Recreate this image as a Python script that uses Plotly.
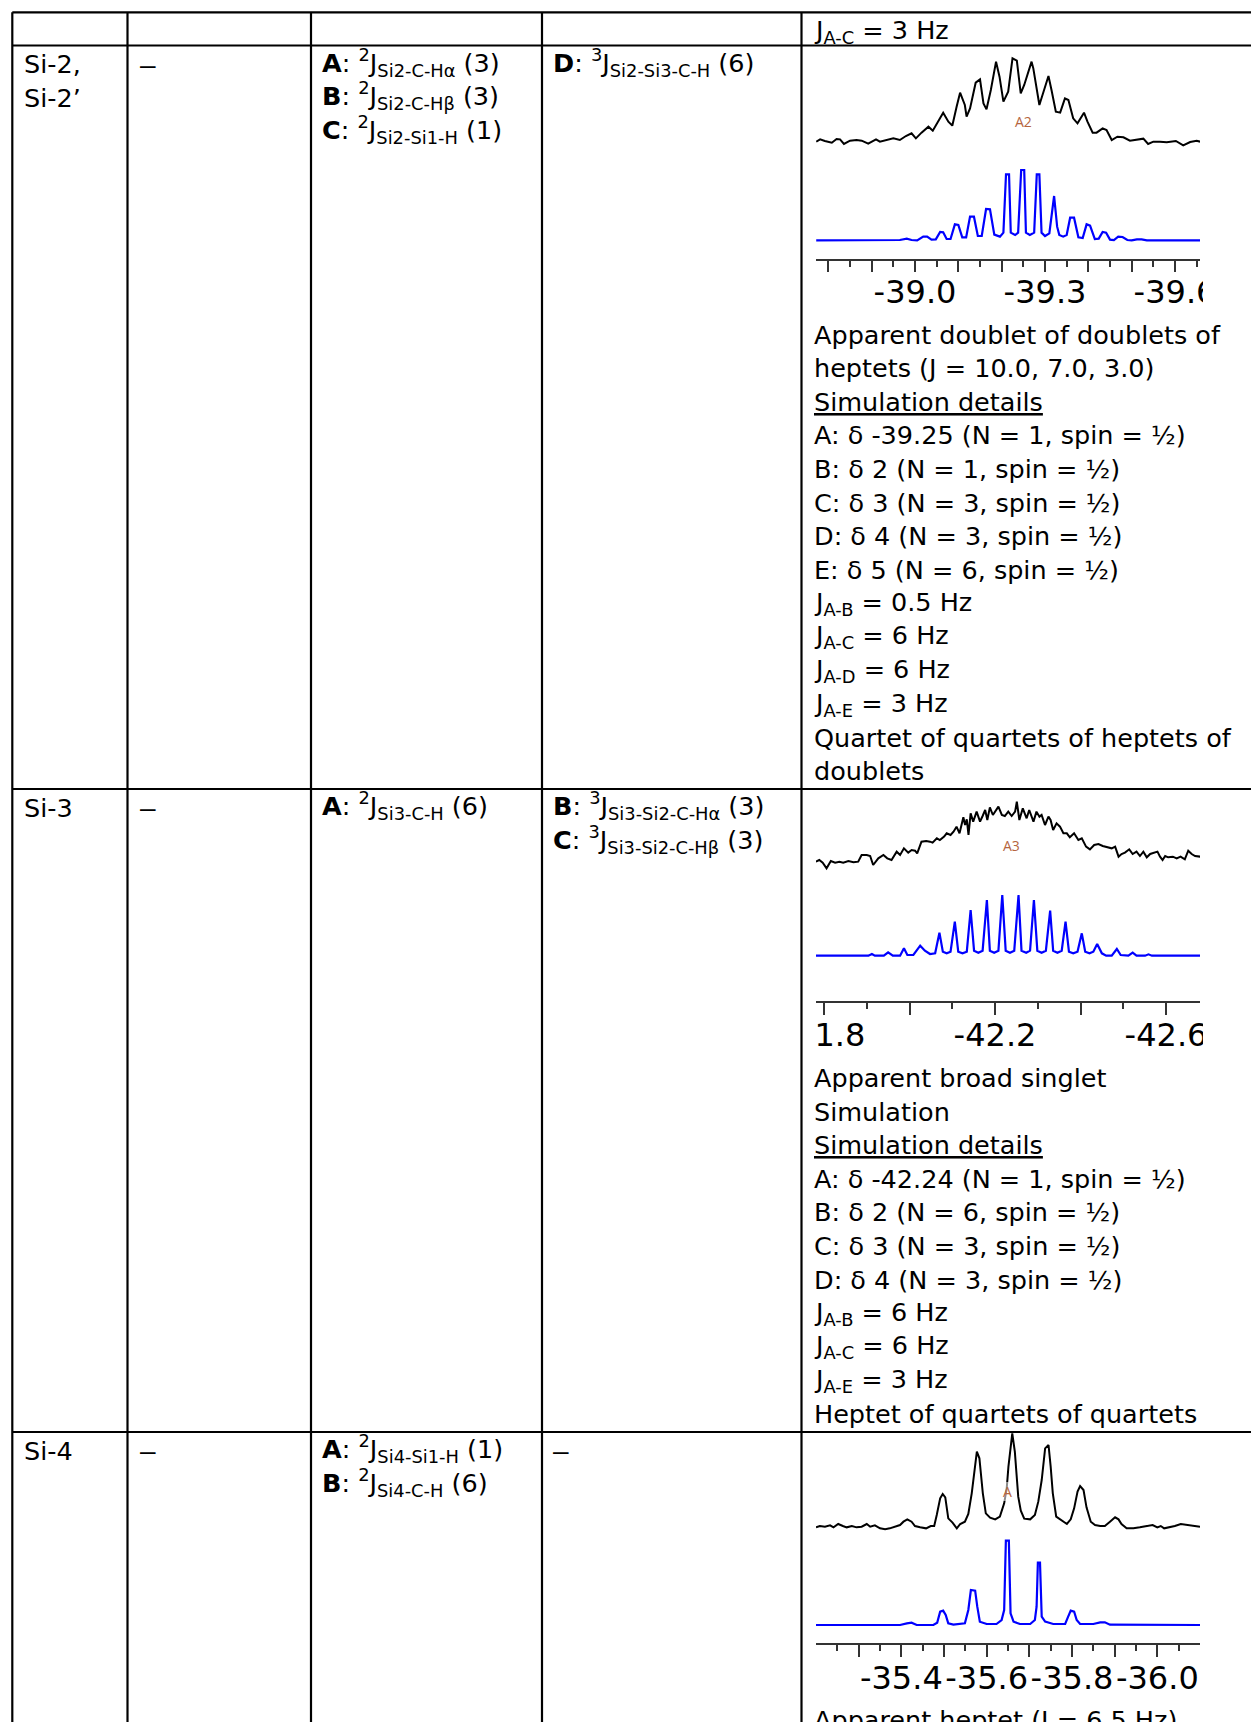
import plotly.graph_objects as go

# ------------------------------------------------------------------
# DATA
# ------------------------------------------------------------------
# Si-2 / Si-2' : experimental (black) and simulated (blue) 29Si traces
SI2_EXP_PPM = [-38.772, -38.781, -38.792, -38.808, -38.819, -38.827, -38.836, -38.850, -38.865, -38.877,
               -38.892, -38.910, -38.919, -38.935, -38.950, -38.965, -38.979, -38.992, -39.002, -39.015,
               -39.031, -39.041, -39.054, -39.065, -39.077, -39.086, -39.096, -39.104, -39.115, -39.119,
               -39.127, -39.140, -39.150, -39.158, -39.165, -39.175, -39.187, -39.195, -39.204, -39.215,
               -39.225, -39.235, -39.244, -39.252, -39.269, -39.273, -39.287, -39.296, -39.308, -39.315,
               -39.325, -39.335, -39.346, -39.354, -39.365, -39.375, -39.390, -39.398, -39.410, -39.419,
               -39.433, -39.442, -39.454, -39.467, -39.481, -39.496, -39.510, -39.527, -39.538, -39.550,
               -39.565, -39.581, -39.602, -39.619, -39.635, -39.650, -39.658]
SI2_EXP_INT = [0, 7, 2, -3, 8, 7, -7, 3, 5, 3,
               -6, 7, 0, 5, 10, 5, 17, 25, 10, 27,
               45, 33, 60, 87, 60, 48, 105, 147, 110, 75,
               100, 177, 187, 115, 97, 155, 240, 195, 120, 150,
               250, 243, 145, 170, 240, 220, 110, 150, 197, 155,
               90, 87, 130, 125, 70, 55, 87, 60, 27, 27,
               40, 35, 5, 15, 13, 3, 5, 9, -7, 0,
               0, -2, 2, -11, -1, 3, 0]
SI2_SIM_PPM = [-38.772, -38.950, -38.965, -38.981, -38.992, -39.005, -39.019, -39.028, -39.038, -39.048,
               -39.058, -39.065, -39.073, -39.082, -39.092, -39.100, -39.109, -39.118, -39.127, -39.136,
               -39.145, -39.154, -39.164, -39.173, -39.183, -39.196, -39.204, -39.210, -39.217, -39.221,
               -39.231, -39.238, -39.245, -39.252, -39.256, -39.265, -39.275, -39.281, -39.287, -39.292,
               -39.300, -39.310, -39.321, -39.328, -39.333, -39.342, -39.350, -39.358, -39.367, -39.377,
               -39.387, -39.396, -39.404, -39.415, -39.424, -39.433, -39.441, -39.450, -39.459, -39.469,
               -39.479, -39.490, -39.500, -39.512, -39.523, -39.535, -39.658]
SI2_SIM_INT = [0, 0, 1, 5, 1, 0, 11, 11, 2, 3,
               25, 24, 4, 4, 48, 46, 9, 9, 71, 71,
               13, 13, 94, 93, 17, 11, 23, 198, 198, 23,
               16, 23, 211, 211, 23, 16, 23, 198, 198, 23,
               13, 21, 133, 41, 16, 11, 16, 68, 68, 9,
               7, 48, 44, 4, 5, 25, 23, 2, 1, 11,
               10, 1, 0, 3, 3, 0, 0]
SI2_RANGE = [-38.7715, -39.6577]
SI2_TICKS = [-38.8, -38.9, -39.0, -39.1, -39.2, -39.3, -39.4, -39.5, -39.6]
SI2_TICK_LABELS = ["", "", "-39.0", "", "", "-39.3", "", "", "-39.6"]
SI2_MINOR = [-38.85, -38.95, -39.05, -39.15, -39.25, -39.35, -39.45, -39.55, -39.65]

# Si-3
SI3_EXP_PPM = [-41.781, -41.789, -41.797, -41.806, -41.816, -41.826, -41.836, -41.845, -41.857, -41.869,
               -41.880, -41.888, -41.900, -41.908, -41.915, -41.927, -41.939, -41.948, -41.958, -41.970,
               -41.978, -41.987, -41.997, -42.005, -42.013, -42.018, -42.028, -42.039, -42.048, -42.054,
               -42.064, -42.071, -42.081, -42.087, -42.096, -42.103, -42.110, -42.117, -42.126, -42.130,
               -42.134, -42.138, -42.143, -42.149, -42.157, -42.165, -42.171, -42.177, -42.182, -42.188,
               -42.195, -42.200, -42.208, -42.216, -42.223, -42.231, -42.239, -42.247, -42.251, -42.257,
               -42.265, -42.274, -42.280, -42.290, -42.297, -42.304, -42.309, -42.317, -42.325, -42.330,
               -42.336, -42.344, -42.352, -42.360, -42.368, -42.375, -42.385, -42.395, -42.403, -42.413,
               -42.422, -42.432, -42.442, -42.452, -42.463, -42.473, -42.481, -42.489, -42.496, -42.504,
               -42.514, -42.522, -42.531, -42.539, -42.547, -42.555, -42.563, -42.572, -42.580, -42.586,
               -42.592, -42.598, -42.605, -42.616, -42.625, -42.634, -42.644, -42.652, -42.660, -42.668,
               -42.680]
SI3_EXP_INT = [5, 10, 2, -15, 7, 2, 5, 2, 7, 3,
               5, 25, 25, 22, -5, 15, 25, 15, 10, 35,
               25, 45, 32, 40, 38, 30, 65, 67, 65, 62,
               75, 70, 80, 90, 85, 95, 110, 90, 138, 115,
               132, 85, 150, 125, 155, 125, 142, 160, 130, 168,
               145, 155, 170, 145, 142, 155, 142, 155, 185, 130,
               165, 135, 160, 125, 155, 140, 145, 115, 140, 130,
               100, 120, 110, 90, 90, 78, 90, 70, 75, 50,
               42, 55, 58, 52, 48, 45, 50, 20, 28, 32,
               42, 28, 35, 22, 35, 18, 28, 32, 35, 20,
               10, 22, 18, 20, 15, 20, 12, 38, 28, 22,
               20]
SI3_SIM_PPM = [-41.781, -41.876, -41.904, -41.912, -41.919, -41.940, -41.950, -41.961, -41.978, -41.987,
               -41.995, -42.009, -42.025, -42.036, -42.048, -42.060, -42.070, -42.078, -42.087, -42.096,
               -42.106, -42.114, -42.124, -42.134, -42.143, -42.151, -42.161, -42.171, -42.181, -42.188,
               -42.198, -42.208, -42.217, -42.225, -42.235, -42.245, -42.255, -42.262, -42.273, -42.282,
               -42.291, -42.299, -42.309, -42.319, -42.329, -42.336, -42.346, -42.356, -42.365, -42.373,
               -42.383, -42.393, -42.403, -42.411, -42.421, -42.430, -42.439, -42.450, -42.460, -42.473,
               -42.485, -42.494, -42.512, -42.522, -42.531, -42.551, -42.559, -42.567, -42.680]
SI3_SIM_INT = [0, 0, 0, 5, 0, 0, 10, 0, 0, 22,
               2, 2, 30, 15, 5, 7, 69, 12, 7, 12,
               102, 12, 7, 12, 137, 15, 9, 15, 167, 15,
               9, 15, 182, 15, 9, 15, 182, 15, 9, 15,
               167, 15, 9, 15, 135, 15, 9, 15, 102, 12,
               7, 12, 67, 12, 7, 12, 35, 7, 0, 0,
               20, 2, 0, 9, 0, 0, 4, 0, 0]
SI3_RANGE = [-41.7813, -42.6795]
SI3_TICKS = [-41.8, -42.0, -42.2, -42.4, -42.6]
SI3_TICK_LABELS = ["-41.8", "", "-42.2", "", "-42.6"]
SI3_MINOR = [-41.9, -42.1, -42.3, -42.5]

# Si-4
SI4_EXP_PPM = [-35.200, -35.209, -35.221, -35.233, -35.241, -35.252, -35.263, -35.272, -35.284, -35.295,
               -35.307, -35.319, -35.327, -35.338, -35.350, -35.362, -35.373, -35.385, -35.397, -35.405,
               -35.414, -35.424, -35.432, -35.444, -35.458, -35.469, -35.477, -35.483, -35.491, -35.497,
               -35.503, -35.510, -35.520, -35.530, -35.538, -35.549, -35.557, -35.565, -35.577, -35.583,
               -35.591, -35.598, -35.608, -35.620, -35.631, -35.641, -35.647, -35.651, -35.660, -35.666,
               -35.674, -35.680, -35.688, -35.702, -35.713, -35.721, -35.729, -35.737, -35.745, -35.750,
               -35.755, -35.763, -35.772, -35.788, -35.797, -35.805, -35.813, -35.819, -35.827, -35.834,
               -35.844, -35.854, -35.866, -35.877, -35.889, -35.901, -35.909, -35.916, -35.928, -35.944,
               -35.959, -35.975, -35.989, -36.000, -36.008, -36.016, -36.028, -36.041, -36.055, -36.069,
               -36.084, -36.100]
SI4_EXP_INT = [-2, 2, 0, 4, -2, 8, 2, -2, 2, -2,
               0, 8, 0, 4, -5, -8, -5, 0, 5, 15,
               22, 15, 2, -2, -5, 2, 2, 35, 85, 98,
               88, 25, 12, -5, 8, 15, 38, 100, 225, 205,
               100, 40, 27, 22, 30, 70, 115, 180, 280, 225,
               90, 48, 24, 22, 35, 75, 140, 235, 245, 180,
               100, 30, 22, 8, 22, 55, 105, 122, 110, 58,
               15, 5, 2, 2, 15, 28, 22, 8, -5, -5,
               -2, 2, 5, -2, 2, -5, -2, 2, 8, 5,
               2, 0]
SI4_SIM_PPM = [-35.200, -35.397, -35.413, -35.424, -35.436, -35.475, -35.484, -35.491, -35.498, -35.504,
               -35.510, -35.522, -35.549, -35.557, -35.563, -35.573, -35.578, -35.584, -35.600, -35.623,
               -35.635, -35.641, -35.645, -35.652, -35.656, -35.663, -35.678, -35.702, -35.713, -35.717,
               -35.720, -35.725, -35.729, -35.737, -35.756, -35.784, -35.791, -35.797, -35.805, -35.811,
               -35.819, -35.850, -35.866, -35.877, -35.889, -36.100]
SI4_SIM_INT = [0, 0, 5, 7, 0, 0, 7, 40, 43, 30,
               5, 1, 5, 45, 105, 103, 55, 10, 3, 3,
               15, 45, 253, 253, 35, 10, 3, 3, 15, 55,
               187, 187, 25, 10, 3, 3, 25, 43, 40, 15,
               3, 3, 8, 8, 1, 0]
SI4_RANGE = [-35.2, -36.1]
SI4_TICKS = [-35.3, -35.4, -35.5, -35.6, -35.7, -35.8, -35.9, -36.0]
SI4_TICK_LABELS = ["", "-35.4", "", "-35.6", "", "-35.8", "", "-36.0"]
SI4_MINOR = [-35.25, -35.35, -35.45, -35.55, -35.65, -35.75, -35.85, -35.95, -36.05]

PEAK_LABELS = ["A2", "A3", "A"]

# table text
HEADER_E = ["J<sub>A-C</sub> = 3 Hz"]
COL_A = [["Si-2,", "Si-2’"], ["Si-3"], ["Si-4"]]
COL_B = [["–"], ["–"], ["–"]]
COL_C = [["<b>A</b>: <sup>2</sup>J<sub>Si2-C-Hα</sub> (3)",
          "<b>B</b>: <sup>2</sup>J<sub>Si2-C-Hβ</sub> (3)",
          "<b>C</b>: <sup>2</sup>J<sub>Si2-Si1-H</sub> (1)"],
         ["<b>A</b>: <sup>2</sup>J<sub>Si3-C-H</sub> (6)"],
         ["<b>A</b>: <sup>2</sup>J<sub>Si4-Si1-H</sub> (1)",
          "<b>B</b>: <sup>2</sup>J<sub>Si4-C-H</sub> (6)"]]
COL_D = [["<b>D</b>: <sup>3</sup>J<sub>Si2-Si3-C-H</sub> (6)"],
         ["<b>B</b>: <sup>3</sup>J<sub>Si3-Si2-C-Hα</sub> (3)",
          "<b>C</b>: <sup>3</sup>J<sub>Si3-Si2-C-Hβ</sub> (3)"],
         ["–"]]
COL_E = [["Apparent doublet of doublets of",
          "heptets (J = 10.0, 7.0, 3.0)",
          "<u>Simulation details</u>",
          "A: δ -39.25 (N = 1, spin = ½)",
          "B: δ 2 (N = 1, spin = ½)",
          "C: δ 3 (N = 3, spin = ½)",
          "D: δ 4 (N = 3, spin = ½)",
          "E: δ 5 (N = 6, spin = ½)",
          "J<sub>A-B</sub> = 0.5 Hz",
          "J<sub>A-C</sub> = 6 Hz",
          "J<sub>A-D</sub> = 6 Hz",
          "J<sub>A-E</sub> = 3 Hz",
          "Quartet of quartets of heptets of",
          "doublets"],
         ["Apparent broad singlet",
          "Simulation",
          "<u>Simulation details</u>",
          "A: δ -42.24 (N = 1, spin = ½)",
          "B: δ 2 (N = 6, spin = ½)",
          "C: δ 3 (N = 3, spin = ½)",
          "D: δ 4 (N = 3, spin = ½)",
          "J<sub>A-B</sub> = 6 Hz",
          "J<sub>A-C</sub> = 6 Hz",
          "J<sub>A-E</sub> = 3 Hz",
          "Heptet of quartets of quartets"],
         ["Apparent heptet (J = 6.5 Hz)"]]

# ------------------------------------------------------------------
# LAYOUT GEOMETRY (reference pixels)
# ------------------------------------------------------------------
OFF = 8                      # default page body margin
FW, FH = 1243, 1714


def fx(x):
    return (x - OFF) / FW


def fy(y):
    return 1 - (y - OFF) / FH


FONT = "DejaVu Sans"
TXT = 25.5
LINE_H = 33.6

H_LINES = [12.3, 45.5, 789, 1432]
V_LINES = [12.3, 127.5, 311, 542, 801.5]
ROW_TOP = [45.5, 789, 1432]
COL_X = [26, 142, 324, 555, 816]
E_START = [334.5, 1078, 1720]

fig = go.Figure()

SPEC_X = [816, 1200]
spectra = [
    dict(exp=(SI2_EXP_PPM, SI2_EXP_INT), sim=(SI2_SIM_PPM, SI2_SIM_INT), rng=SI2_RANGE,
         ticks=SI2_TICKS, labels=SI2_TICK_LABELS, minor=SI2_MINOR,
         black0=141.67, blue0=240.33, axis=259, ticklen=11, lab=(1023, 121)),
    dict(exp=(SI3_EXP_PPM, SI3_EXP_INT), sim=(SI3_SIM_PPM, SI3_SIM_INT), rng=SI3_RANGE,
         ticks=SI3_TICKS, labels=SI3_TICK_LABELS, minor=SI3_MINOR,
         black0=863.33, blue0=955.67, axis=1001, ticklen=12, lab=(1011, 845)),
    dict(exp=(SI4_EXP_PPM, SI4_EXP_INT), sim=(SI4_SIM_PPM, SI4_SIM_INT), rng=SI4_RANGE,
         ticks=SI4_TICKS, labels=SI4_TICK_LABELS, minor=SI4_MINOR,
         black0=1526.67, blue0=1625, axis=1643.3, ticklen=12, lab=(1007, 1491)),
]

K = 3.0  # intensity units per pixel
layout_axes = {}
for i, sp in enumerate(spectra):
    xn = "" if i == 0 else str(i + 1)
    yb = str(2 * i + 1) if i > 0 else ""
    ys = str(2 * i + 2)
    # black (experimental)
    fig.add_trace(go.Scatter(x=sp["exp"][0], y=sp["exp"][1], mode="lines",
                             line=dict(color="black", width=2),
                             xaxis="x" + xn, yaxis="y" + yb, showlegend=False, hoverinfo="skip"))
    # blue (simulated)
    fig.add_trace(go.Scatter(x=sp["sim"][0], y=sp["sim"][1], mode="lines",
                             line=dict(color="#0000FF", width=2.2),
                             xaxis="x" + xn, yaxis="y" + ys, showlegend=False, hoverinfo="skip"))
    b0 = sp["black0"]
    layout_axes["yaxis" + yb] = dict(domain=[fy(b0 + 20), fy(b0 - 100)], range=[-20 * K, 100 * K],
                                     visible=False, anchor="x" + xn, fixedrange=True)
    s0, ax = sp["blue0"], sp["axis"]
    layout_axes["yaxis" + ys] = dict(domain=[fy(ax), fy(s0 - 90)], range=[-(ax - s0) * K, 90 * K],
                                     visible=False, anchor="x" + xn, fixedrange=True)
    layout_axes["xaxis" + xn] = dict(
        domain=[fx(SPEC_X[0]), fx(SPEC_X[1])], range=sp["rng"], anchor="y" + ys,
        showline=True, linecolor="#333333", linewidth=2, showgrid=False, zeroline=False,
        ticks="outside", ticklen=sp["ticklen"], tickwidth=1.5, tickcolor="#333333",
        tickmode="array", tickvals=sp["ticks"], ticktext=sp["labels"], tickangle=0,
        tickfont=dict(family=FONT, size=32, color="black"), ticklabelstandoff=-7,
        minor=dict(tickmode="array", tickvals=sp["minor"], ticks="outside", ticklen=6,
                   tickwidth=1.5, tickcolor="#333333", showgrid=False),
        fixedrange=True, automargin=False)

shapes = []
# masks that crop tick labels at the cell edges
for (x0, x1, y0, y1) in [(1203, 1260, 270, 312), (1203, 1260, 1012, 1052), (770, 816, 1012, 1052)]:
    shapes.append(dict(type="rect", xref="paper", yref="paper", x0=fx(x0), x1=fx(x1),
                       y0=fy(y1), y1=fy(y0), fillcolor="white", line=dict(width=0), layer="above"))
for y in H_LINES:
    shapes.append(dict(type="line", xref="paper", yref="paper", x0=fx(12.3), x1=fx(1262),
                       y0=fy(y), y1=fy(y), line=dict(color="black", width=2.2), layer="above"))
for x in V_LINES:
    shapes.append(dict(type="line", xref="paper", yref="paper", x0=fx(x), x1=fx(x),
                       y0=fy(12.3), y1=fy(1745), line=dict(color="black", width=2.2), layer="above"))

annotations = []


def add_text(x, y, text, size=TXT, color="black", family=FONT, bg=None):
    d = dict(x=fx(x - 2), y=fy(y), xref="paper", yref="paper", text=text, showarrow=False,
             xanchor="left", yanchor="middle", font=dict(family=family, size=size, color=color),
             borderpad=0, borderwidth=0)
    if bg:
        d["bgcolor"] = bg
    annotations.append(d)


add_text(COL_X[4], 31.5, HEADER_E[0])
for r in range(3):
    top = ROW_TOP[r]
    for j, t in enumerate(COL_A[r]):
        add_text(COL_X[0], top + 18.8 + j * LINE_H, t)
    for j, t in enumerate(COL_B[r]):
        add_text(COL_X[1], top + 18.8 + j * LINE_H, t, size=28, family="Liberation Sans")
    for j, t in enumerate(COL_C[r]):
        add_text(COL_X[2], top + 16.5 + j * LINE_H, t)
    for j, t in enumerate(COL_D[r]):
        if t == "–":
            add_text(COL_X[3], top + 18.8 + j * LINE_H, t, size=28, family="Liberation Sans")
        else:
            add_text(COL_X[3], top + 16.5 + j * LINE_H, t)
    for j, t in enumerate(COL_E[r]):
        add_text(COL_X[4], E_START[r] + j * LINE_H, t)

for i, sp in enumerate(spectra):
    lx, ly = sp["lab"]
    annotations.append(dict(x=fx(lx), y=fy(ly), xref="paper", yref="paper", text=PEAK_LABELS[i],
                            showarrow=False, xanchor="center", yanchor="middle",
                            font=dict(family="Open Sans", size=14, color="#B5653E"),
                            bgcolor="rgba(255,255,255,0.55)" if i == 2 else None,
                            borderpad=0, borderwidth=0))

fig.update_layout(
    width=FW, height=FH, margin=dict(l=0, r=0, t=0, b=0, pad=0),
    paper_bgcolor="white", plot_bgcolor="rgba(0,0,0,0)", template="none",
    showlegend=False, shapes=shapes, annotations=annotations, **layout_axes)

fig.write_html("out.html")
